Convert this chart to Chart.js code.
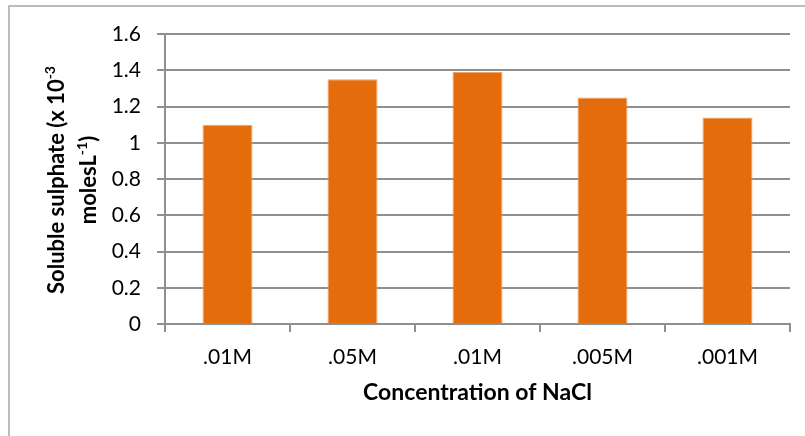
<!DOCTYPE html>
<html>
<head>
<meta charset="utf-8">
<title>Soluble sulphate vs NaCl</title>
<script src="https://cdn.jsdelivr.net/npm/chart.js@4.4.1/dist/chart.umd.min.js"></script>
<style>
  html, body { margin: 0; padding: 0; background: #fff; }
  canvas { display: block; }
</style>
</head>
<body>
<canvas id="chart" width="805" height="436"></canvas>
<script>
// ===== DATA =====
const concentrations = [".01M", ".05M", ".01M", ".005M", ".001M"];
const sulphate = [1.1, 1.35, 1.39, 1.25, 1.14];
// y title lines: normal text, superscript, trailing text
const yTitleText = ["Soluble sulphate (x 10", "molesL"];
const yTitleSup = ["-3", "-1"];
const yTitleTail = ["", ")"];
const xTitle = "Concentration of NaCl";

const gridGrey = "#8f8f8f";

// thin frame around the whole chart
const frame = {
  id: "frame",
  beforeDraw(chart) {
    const ctx = chart.ctx;
    ctx.save();
    ctx.strokeStyle = "#a6a6a6";
    ctx.lineWidth = 1.5;
    ctx.strokeRect(9, 6, 820, 600);
    ctx.restore();
  }
};

// rotated two-line y axis title with superscripts
const yTitle = {
  id: "yTitle",
  afterDraw(chart) {
    const { ctx, chartArea } = chart;
    const cy = (chartArea.top + chartArea.bottom) / 2 + 1;
    const lineX = [57, 89];
    const big = "bold 22px Lato";
    const small = "bold 14px Lato";
    ctx.save();
    ctx.translate(0, cy);
    ctx.rotate(-Math.PI / 2);
    ctx.fillStyle = "#000";
    ctx.textBaseline = "middle";
    ctx.textAlign = "left";
    yTitleText.forEach((txt, i) => {
      ctx.font = big;
      const w1 = ctx.measureText(txt).width;
      const w3 = ctx.measureText(yTitleTail[i]).width;
      ctx.font = small;
      const w2 = ctx.measureText(yTitleSup[i]).width;
      let x = -(w1 + w2 + w3) / 2;
      const y = lineX[i];
      ctx.font = big;
      ctx.fillText(txt, x, y);
      x += w1;
      ctx.font = small;
      ctx.fillText(yTitleSup[i], x, y - 7);
      x += w2;
      ctx.font = big;
      ctx.fillText(yTitleTail[i], x, y);
    });
    ctx.restore();
  }
};

const ctx = document.getElementById("chart").getContext("2d");
new Chart(ctx, {
  type: "bar",
  data: {
    labels: concentrations,
    datasets: [
      {
        data: sulphate,
        backgroundColor: "#E46C0A",
        borderColor: "#F0A468",
        borderWidth: 1,
        categoryPercentage: 1,
        barPercentage: 0.4
      }
    ]
  },
  options: {
    responsive: false,
    animation: false,
    devicePixelRatio: 1,
    layout: { padding: { top: 34, right: 15, left: 0, bottom: 0 } },
    plugins: {
      legend: { display: false },
      tooltip: { enabled: false }
    },
    scales: {
      x: {
        offset: true,
        grid: {
          offset: true,
          drawOnChartArea: false,
          color: gridGrey,
          lineWidth: 2,
          tickLength: 8
        },
        border: { color: gridGrey, width: 2 },
        ticks: {
          color: "#000",
          padding: 13,
          font: { family: "Lato", size: 21 }
        },
        title: {
          display: true,
          text: xTitle,
          color: "#000",
          padding: { top: 0, bottom: 30 },
          font: { family: "Lato", size: 23, weight: "bold", lineHeight: 1.2 }
        },
        afterFit(scale) {
          scale.height = 112;
        }
      },
      y: {
        min: 0,
        max: 1.6,
        ticks: {
          stepSize: 0.2,
          color: "#000",
          padding: 16,
          font: { family: "Lato", size: 21 },
          callback: (v) => String(+v.toFixed(1))
        },
        grid: {
          color: gridGrey,
          lineWidth: 2,
          tickLength: 8
        },
        border: { color: gridGrey, width: 2 },
        afterFit(scale) {
          scale.width = 165;
        }
      }
    }
  },
  plugins: [frame, yTitle]
});
</script>
</body>
</html>
